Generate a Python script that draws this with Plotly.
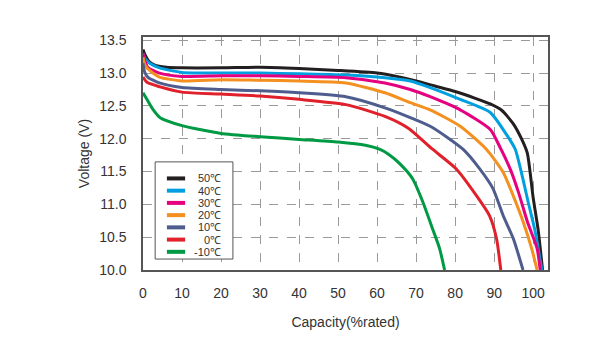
import plotly.graph_objects as go

labels = ["50℃", "40℃", "30℃", "20℃", "10℃", "0℃", "-10℃"]
colors = ["#231f20", "#00a0e0", "#e5007f", "#f39020", "#4f5d8e", "#e0202a", "#009a44"]

x_50 = [0, 0.5, 1.5, 3, 6, 10, 20, 30, 40, 50, 60, 65, 70, 75, 80, 85, 89, 92, 95, 97, 98.5, 100, 101.3, 102.4]
y_50 = [13.36, 13.28, 13.18, 13.12, 13.09, 13.08, 13.08, 13.09, 13.07, 13.04, 13.0, 12.95, 12.88, 12.8, 12.72, 12.62, 12.53, 12.43, 12.22, 12.0, 11.78, 11.1, 10.6, 10.0]

x_40 = [0, 0.5, 1.7, 4.2, 10, 20, 30, 40, 52, 62, 68.5, 73.6, 81.3, 89, 93.3, 95.4, 97.2, 98.7, 100.5, 102.2]
y_40 = [13.3, 13.22, 13.15, 13.08, 13.01, 13.0, 13.0, 12.99, 12.97, 12.93, 12.88, 12.78, 12.6, 12.4, 12.05, 11.84, 11.43, 11.04, 10.59, 10.0]

x_30 = [0, 0.5, 1.2, 4.2, 10, 20, 30, 40, 52, 62, 68.5, 73.6, 81.3, 89, 91.5, 94.1, 96.2, 98.5, 101, 101.8]
y_30 = [13.3, 13.18, 13.09, 13.0, 12.95, 12.96, 12.96, 12.95, 12.93, 12.85, 12.75, 12.64, 12.44, 12.14, 11.87, 11.54, 11.19, 10.74, 10.33, 10.0]

x_20 = [0, 0.5, 1.7, 4.2, 10, 20, 30, 40, 52, 62, 68.5, 73.6, 81.3, 88, 92.3, 94.9, 97.4, 99.6, 101]
y_20 = [13.24, 13.12, 13.04, 12.94, 12.88, 12.9, 12.89, 12.88, 12.85, 12.7, 12.55, 12.44, 12.19, 11.84, 11.49, 11.13, 10.74, 10.33, 10.0]

x_10 = [0, 0.4, 1.2, 4.2, 10, 20, 30, 40, 52, 62, 73.6, 82, 86.3, 89.7, 92.3, 94.9, 97.4]
y_10 = [13.15, 13.02, 12.94, 12.85, 12.78, 12.75, 12.73, 12.7, 12.64, 12.47, 12.19, 11.84, 11.54, 11.24, 10.83, 10.48, 10.0]

x_0 = [0, 1, 4.4, 10, 20, 30, 40, 52, 62, 68, 74.2, 80.3, 85.5, 88.8, 90.6, 91.7]
y_0 = [12.94, 12.86, 12.79, 12.71, 12.68, 12.65, 12.6, 12.52, 12.34, 12.16, 11.84, 11.54, 11.13, 10.83, 10.48, 10.0]

x_m10 = [0, 1, 2.5, 4.4, 10, 20, 30, 40, 50, 57, 60.6, 63, 65.8, 69.1, 71.7, 74.2, 76.0, 77.3]
y_m10 = [12.7, 12.6, 12.45, 12.32, 12.2, 12.08, 12.03, 11.99, 11.95, 11.9, 11.84, 11.76, 11.62, 11.39, 11.04, 10.63, 10.33, 10.0]

series_x = [x_50, x_40, x_30, x_20, x_10, x_0, x_m10]
series_y = [y_50, y_40, y_30, y_20, y_10, y_0, y_m10]

x_ticks = [0, 10, 20, 30, 40, 50, 60, 70, 80, 90, 100]
y_ticks = [10.0, 10.5, 11.0, 11.5, 12.0, 12.5, 13.0, 13.5]

fig = go.Figure()
for xs, ys, lab, col in zip(series_x, series_y, labels, colors):
    fig.add_trace(go.Scatter(x=xs, y=ys, mode="lines", name=lab, showlegend=False,
                             line=dict(color=col, width=3, shape="spline", smoothing=0.6)))

# compact legend box (Plotly's built-in legend rows are too tall for this chart)
leg_x0, leg_x1, leg_y0, leg_y1 = 0.03, 0.222, 0.047, 0.464
fig.add_shape(type="rect", xref="paper", yref="paper", x0=leg_x0, x1=leg_x1, y0=leg_y0, y1=leg_y1,
              line=dict(color="#555555", width=1), fillcolor="white", layer="above")
row_top, row_step = 0.393, 0.0525
for i, (lab, col) in enumerate(zip(labels, colors)):
    yy = row_top - i * row_step
    fig.add_shape(type="line", xref="paper", yref="paper", x0=0.059, x1=0.104, y0=yy, y1=yy,
                  line=dict(color=col, width=4), layer="above")
    fig.add_annotation(xref="paper", yref="paper", x=0.197, y=yy, text=lab, showarrow=False,
                       xanchor="right", yanchor="middle",
                       font=dict(size=11, color="#333333"))

fig.update_layout(
    width=603, height=340,
    margin=dict(l=143, r=55, t=37, b=68),
    paper_bgcolor="white", plot_bgcolor="white",
    font=dict(family="Liberation Sans, Arial, sans-serif", color="#333333", size=14),
    showlegend=False,
)
fig.update_xaxes(range=[0, 103.8], tickvals=x_ticks, ticktext=[str(v) for v in x_ticks],
                 showgrid=True, gridcolor="#9a9a9a", griddash="dash", gridwidth=1,
                 showline=True, linecolor="#555555", linewidth=1.5, mirror=True,
                 zeroline=False, ticks="", ticklen=0, ticklabelstandoff=9,
                 title=dict(text="Capacity(%rated)", font=dict(size=14), standoff=18))
fig.update_yaxes(range=[10.0, 13.55], tickvals=y_ticks, ticktext=[f"{v:.1f}" for v in y_ticks],
                 showgrid=True, gridcolor="#9a9a9a", griddash="dash", gridwidth=1,
                 showline=True, linecolor="#555555", linewidth=1.5, mirror=True,
                 zeroline=False, ticks="", ticklen=0, ticklabelstandoff=12,
                 title=dict(text="Voltage (V)", font=dict(size=14), standoff=6))

fig.write_html("out.html")
